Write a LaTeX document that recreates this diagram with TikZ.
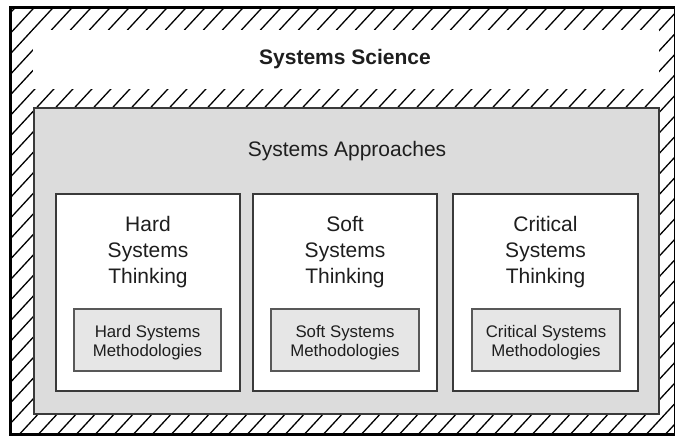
\documentclass[tikz,border=0pt]{standalone}
\usepackage{fontspec}
\setmainfont{Liberation Sans}
\definecolor{txt}{HTML}{1E1E1E}
\definecolor{edge}{HTML}{3A3A3A}
\definecolor{graybox}{HTML}{DCDCDC}
\definecolor{smallfill}{HTML}{E6E6E6}
\tikzset{
  hatchline/.style={line width=1.3pt, black},
  approachbox/.style={draw=edge, line width=1.8pt, fill=graybox},
  thinkbox/.style={draw=edge, line width=1.6pt, fill=white},
  methbox/.style={draw=edge!85, line width=1.2pt, fill=smallfill},
  bigtext/.style={font=\fontsize{21}{26}\selectfont, text=txt, align=center, inner sep=0pt, anchor=base},
  smalltext/.style={font=\fontsize{16.8}{19.5}\selectfont, text=txt, align=center, inner sep=0pt, anchor=base},
}
\begin{document}
\begin{tikzpicture}[x=1pt,y=1pt]
\useasboundingbox (0,0) rectangle (675,438);
% hatched frame
\begin{scope}
  \clip (10,3) rectangle (675,430);
  \foreach \x in {-440,-421,...,680} {
    \draw[hatchline] (\x,0) -- ++(420,454);
  }
\end{scope}
% white title area
\fill[white] (33,349) rectangle (659,408);
\node[bigtext, font=\fontsize{21}{26}\selectfont\bfseries] (science) at (345,373) {Systems Science};
% outer border
\draw[line width=3pt, black] (10,3) rectangle (675,430);
% approaches box
\draw[approachbox] (34,24) rectangle (659,330);
\node[bigtext] (approaches) at (347,281) {Systems Approaches};
% thinking boxes
\draw[thinkbox] (56,47) rectangle (240,244);
\draw[thinkbox] (253,47) rectangle (437,244);
\draw[thinkbox] (453,47) rectangle (638,244);
\node[bigtext] (hard) at (148,154) {Hard\\Systems\\Thinking};
\node[bigtext] (soft) at (345,154) {Soft\\Systems\\Thinking};
\node[bigtext] (critical) at (545.5,154) {Critical\\Systems\\Thinking};
% methodology boxes
\draw[methbox] (74,67) rectangle (221,129);
\draw[methbox] (271,67) rectangle (419,129);
\draw[methbox] (472,67) rectangle (620,129);
\node[smalltext] (hardm) at (147.5,81) {Hard Systems\\Methodologies};
\node[smalltext] (softm) at (345,81) {Soft Systems\\Methodologies};
\node[smalltext] (critm) at (546,81) {Critical Systems\\Methodologies};
\end{tikzpicture}
\end{document}
